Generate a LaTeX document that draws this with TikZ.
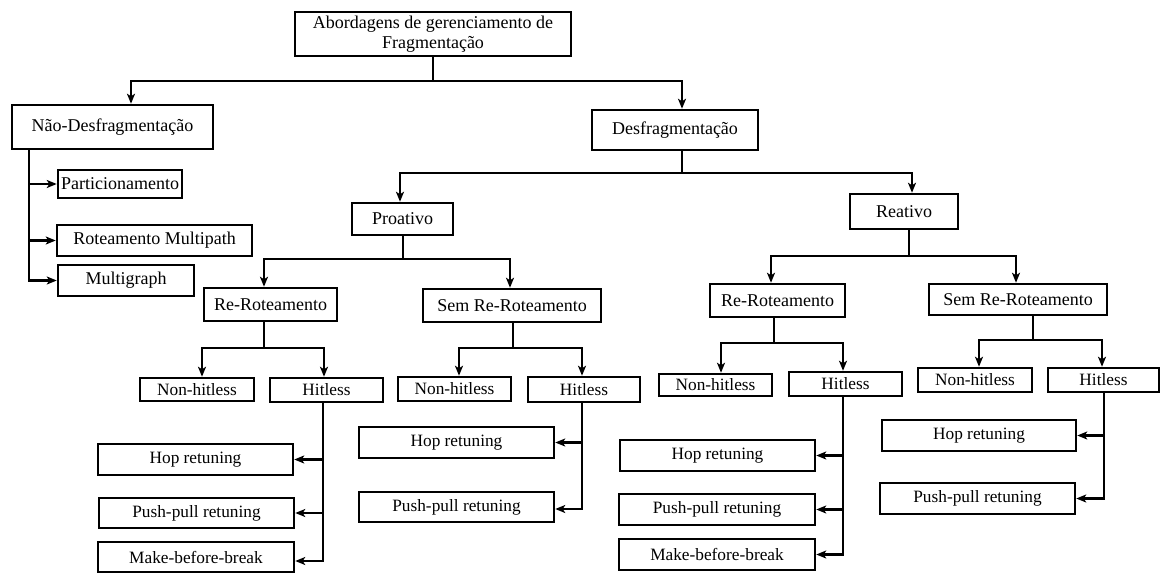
\documentclass[tikz,border=0pt]{standalone}
\usepackage{fontspec}
\setmainfont{Liberation Serif}
\usetikzlibrary{arrows.meta,calc}

\tikzset{
  box/.style={draw, line width=2.5pt, inner sep=0pt, align=center,
    font=\fontsize{18}{20}\selectfont},
  leaf/.style={box, font=\fontsize{17.3}{20}\selectfont},
  link/.style={line width=2.5pt},
  arr/.style={link, -{Stealth[length=10pt,width=8pt,inset=2.5pt]}},
}

\begin{document}
\begin{tikzpicture}[x=1pt, y=-1pt]
\useasboundingbox (0,0) rectangle (1162,575);

% --- top levels ---
\node[box, minimum width=276pt, minimum height=44pt] (title) at (433,34)
  {Abordagens de gerenciamento de\\Fragmentação};
\node[box, minimum width=201pt, minimum height=44pt] (nao) at (112.5,127) {Não-Desfragmentação};
\node[box, minimum width=166pt, minimum height=40pt] (desf) at (675,130) {Desfragmentação};

% --- non-defragmentation branch ---
\node[box, minimum width=124pt, minimum height=28pt] (part) at (120,184) {Particionamento};
\node[box, minimum width=195pt, minimum height=31pt] (rmp) at (154.5,240.5) {Roteamento Multipath};
\node[box, minimum width=136pt, minimum height=31pt] (mg) at (126,280.5) {Multigraph};

% --- proactive / reactive ---
\node[box, minimum width=101pt, minimum height=32pt] (proa) at (402.5,219) {Proativo};
\node[box, minimum width=108pt, minimum height=35pt] (reat) at (904,211.5) {Reativo};

\node[box, minimum width=133pt, minimum height=33pt] (prr) at (270.5,304.5) {Re-Roteamento};
\node[box, minimum width=178pt, minimum height=33pt] (psr) at (512,305.5) {Sem Re-Roteamento};
\node[box, minimum width=135pt, minimum height=33pt] (rrr) at (777.5,300.5) {Re-Roteamento};
\node[box, minimum width=178pt, minimum height=31pt] (rsr) at (1018,299.5) {Sem Re-Roteamento};

% --- hitless / non-hitless ---
\node[leaf, minimum width=114pt, minimum height=23pt] (prnh) at (197,389.5) {Non-hitless};
\node[leaf, minimum width=113pt, minimum height=24pt] (prh) at (326.5,390) {Hitless};
\node[leaf, minimum width=113pt, minimum height=24pt] (psnh) at (454.5,389) {Non-hitless};
\node[leaf, minimum width=112pt, minimum height=25pt] (psh) at (584,389.5) {Hitless};
\node[leaf, minimum width=113pt, minimum height=22pt] (rrnh) at (715.5,385) {Non-hitless};
\node[leaf, minimum width=113pt, minimum height=24pt] (rrh) at (845.5,384) {Hitless};
\node[leaf, minimum width=114pt, minimum height=24pt] (rsnh) at (975,380) {Non-hitless};
\node[leaf, minimum width=111pt, minimum height=24pt] (rsh) at (1103.5,380) {Hitless};

% --- retuning techniques ---
\node[leaf, minimum width=195pt, minimum height=31pt] (prhop) at (195.5,459.5) {Hop retuning};
\node[leaf, minimum width=195pt, minimum height=30pt] (prpp) at (196.5,513) {Push-pull retuning};
\node[leaf, minimum width=196pt, minimum height=30pt] (prmbb) at (196,557) {Make-before-break};

\node[leaf, minimum width=195pt, minimum height=31pt] (pshop) at (456.5,442.5) {Hop retuning};
\node[leaf, minimum width=195pt, minimum height=30pt] (pspp) at (456.5,507) {Push-pull retuning};

\node[leaf, minimum width=195pt, minimum height=31pt] (rrhop) at (717.5,455.5) {Hop retuning};
\node[leaf, minimum width=196pt, minimum height=31pt] (rrpp) at (717,509.5) {Push-pull retuning};
\node[leaf, minimum width=196pt, minimum height=31pt] (rrmbb) at (717,554.5) {Make-before-break};

\node[leaf, minimum width=194pt, minimum height=31pt] (rshop) at (979,435.5) {Hop retuning};
\node[leaf, minimum width=195pt, minimum height=31pt] (rspp) at (977.5,498.5) {Push-pull retuning};

% --- connectors ---
\draw[arr] (title.south) |- (131,81) -- (131,0 |- nao.north);
\draw[arr] (title.south) |- (682,81) -- (682,0 |- desf.north);

\draw[arr] (29,0 |- nao.south) |- (part.west);
\draw[arr] (29,0 |- nao.south) |- (rmp.west);
\draw[arr] (29,0 |- nao.south) |- (mg.west);

\draw[arr] (682,0 |- desf.south) |- (400,173) -- (400,0 |- proa.north);
\draw[arr] (682,0 |- desf.south) |- (912,173) -- (912,0 |- reat.north);

\draw[arr] (403,0 |- proa.south) |- (264,259) -- (264,0 |- prr.north);
\draw[arr] (403,0 |- proa.south) |- (510,259) -- (510,0 |- psr.north);

\draw[arr] (909,0 |- reat.south) |- (771,256) -- (771,0 |- rrr.north);
\draw[arr] (909,0 |- reat.south) |- (1016,256) -- (1016,0 |- rsr.north);

\draw[arr] (264,0 |- prr.south) |- (202,348) -- (202,0 |- prnh.north);
\draw[arr] (264,0 |- prr.south) |- (324,348) -- (324,0 |- prh.north);

\draw[arr] (513,0 |- psr.south) |- (459,348) -- (459,0 |- psnh.north);
\draw[arr] (513,0 |- psr.south) |- (582,348) -- (582,0 |- psh.north);

\draw[arr] (774,0 |- rrr.south) |- (721,343) -- (721,0 |- rrnh.north);
\draw[arr] (774,0 |- rrr.south) |- (843,343) -- (843,0 |- rrh.north);

\draw[arr] (1033,0 |- rsr.south) |- (979,340) -- (979,0 |- rsnh.north);
\draw[arr] (1033,0 |- rsr.south) |- (1102,340) -- (1102,0 |- rsh.north);

\draw[arr] (323,0 |- prh.south) |- (prhop.east);
\draw[arr] (323,0 |- prh.south) |- (prpp.east);
\draw[arr] (323,0 |- prh.south) |- ($(prmbb.east)+(0,4)$);

\draw[arr] (582,0 |- psh.south) |- (pshop.east);
\draw[arr] (582,0 |- psh.south) |- ($(pspp.east)+(0,2)$);

\draw[arr] (843,0 |- rrh.south) |- (rrhop.east);
\draw[arr] (843,0 |- rrh.south) |- (rrpp.east);
\draw[arr] (843,0 |- rrh.south) |- (rrmbb.east);

\draw[arr] (1104,0 |- rsh.south) |- (rshop.east);
\draw[arr] (1104,0 |- rsh.south) |- (rspp.east);
\end{tikzpicture}
\end{document}
